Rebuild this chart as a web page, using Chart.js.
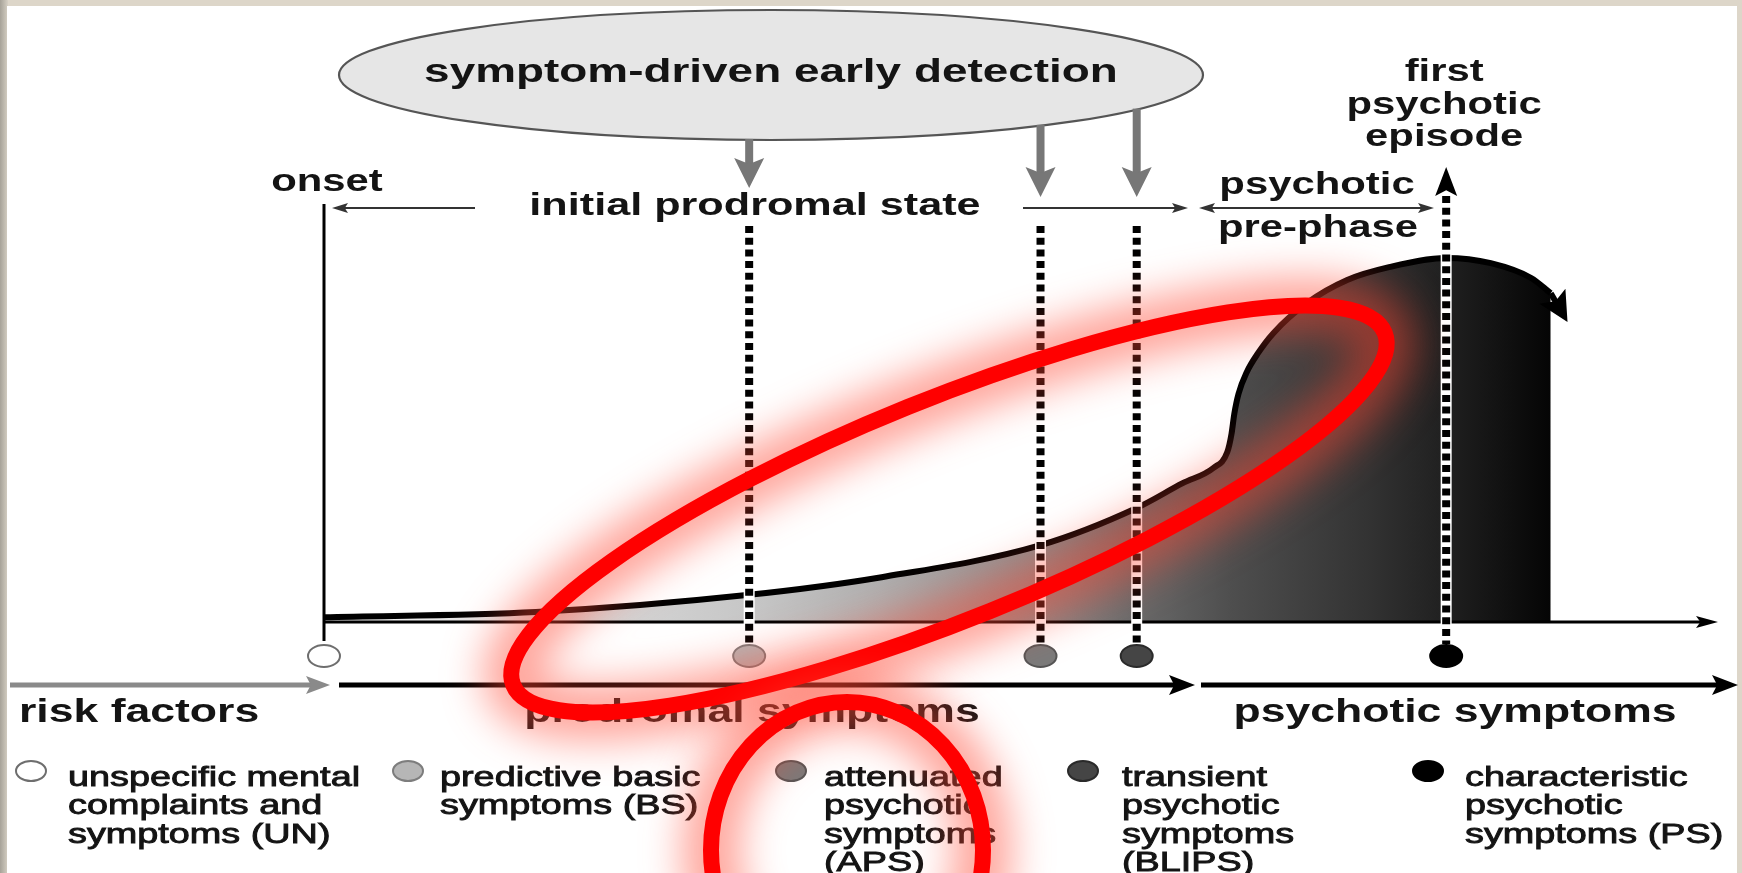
<!DOCTYPE html>
<html>
<head>
<meta charset="utf-8">
<title>Symptom-driven early detection of psychosis</title>
<script src="https://cdn.jsdelivr.net/npm/chart.js@4.4.1/dist/chart.umd.min.js"></script>
<style>
  html, body { margin: 0; padding: 0; background: #ddd6c9; }
  canvas { display: block; }
</style>
</head>
<body>
<canvas id="stageChart" width="1742" height="873"></canvas>
<script>
// time: 0 = onset, 100 = end of the time axis; level: 0 = axis
const stageCodes = ['UN', 'BS', 'APS', 'BLIPS', 'PS'];
const stageTimes = [0, 30.5, 51.4, 58.3, 80.5];
const stageLegend = [
  ['unspecific mental', 'complaints and', 'symptoms (UN)'],
  ['predictive basic', 'symptoms (BS)'],
  ['attenuated', 'psychotic', 'symptoms', '(APS)'],
  ['transient', 'psychotic', 'symptoms', '(BLIPS)'],
  ['characteristic', 'psychotic', 'symptoms (PS)']
];
const detectedStages = ['BS', 'APS', 'BLIPS'];

const curveTimes  = [0, 15.2, 30.5, 40.0, 51.4, 58.3, 61.6, 63.8, 64.8, 65.1, 65.3, 65.6, 66.2, 67.0, 68.1, 70.5, 73.4, 76.4, 80.5, 83.7, 86.6, 88.0];
const curveLevels = [1.2, 2.5, 6.8, 11.2, 19.2, 28.5, 34.7, 38.5, 42.5, 47.0, 52.0, 57.0, 62.5, 67.2, 72.2, 79.7, 85.5, 88.7, 91.0, 89.7, 86.0, 82.2];
const tailTimes  = [88.0, 88.7];
const tailLevels = [82.2, 78.0];

const phaseLabels = ['risk factors', 'prodromal symptoms', 'psychotic symptoms'];

// marker look, same order as stageCodes
const markerFill = ['#ffffff', '#b6b6b6', '#7a7a7a', '#454545', '#000000'];
const markerEdge = ['#6e6e6e', '#7d7d7d', '#555555', '#2a2a2a', '#000000'];

const SX = 1.35; // the original figure is stretched sideways
const FONT = '"Liberation Sans", Arial, Helvetica, sans-serif';

function toPoints(xs, ys) {
  return xs.map((x, i) => ({ x: x, y: ys[i] }));
}

function txt(ctx, s, x, y, size, bold, align, heavy) {
  ctx.save();
  ctx.font = (bold ? 'bold ' : '') + size + 'px ' + FONT;
  ctx.textBaseline = 'middle';
  ctx.textAlign = align || 'center';
  ctx.fillStyle = '#141414';
  ctx.translate(x, y);
  ctx.scale(SX, 1);
  ctx.fillText(s, 0, 0);
  if (heavy) {
    ctx.strokeStyle = '#141414';
    ctx.lineWidth = heavy;
    ctx.strokeText(s, 0, 0);
  }
  ctx.restore();
}

function head(ctx, x, y, ang, len, half, color) {
  ctx.save();
  ctx.translate(x, y);
  ctx.rotate(ang);
  ctx.fillStyle = color;
  ctx.beginPath();
  ctx.moveTo(0, 0);
  ctx.lineTo(-len, -half);
  ctx.lineTo(-len * 0.8, 0);
  ctx.lineTo(-len, half);
  ctx.closePath();
  ctx.fill();
  ctx.restore();
}

function arrow(ctx, x1, y1, x2, y2, color, width, len, half, both) {
  const ang = Math.atan2(y2 - y1, x2 - x1);
  const c = Math.cos(ang), s = Math.sin(ang);
  ctx.save();
  ctx.strokeStyle = color;
  ctx.lineWidth = width;
  ctx.beginPath();
  ctx.moveTo(both ? x1 + c * len * 0.7 : x1, both ? y1 + s * len * 0.7 : y1);
  ctx.lineTo(x2 - c * len * 0.7, y2 - s * len * 0.7);
  ctx.stroke();
  ctx.restore();
  head(ctx, x2, y2, ang, len, half, color);
  if (both) head(ctx, x1, y1, ang + Math.PI, len, half, color);
}

function redMark(ctx, cx, cy, rx, ry, rot) {
  ctx.save();
  ctx.beginPath();
  ctx.ellipse(cx, cy, rx, ry, rot, 0, Math.PI * 2);
  ctx.filter = 'blur(20px)';
  ctx.strokeStyle = 'rgba(255, 70, 50, 0.5)';
  ctx.lineWidth = 56;
  ctx.stroke();
  ctx.filter = 'none';
  ctx.strokeStyle = '#ff0000';
  ctx.lineWidth = 16;
  ctx.stroke();
  ctx.restore();
}

const diagram = {
  id: 'diagram',
  beforeDraw(chart) {
    const ctx = chart.ctx;
    const W = chart.width, H = chart.height;
    ctx.save();
    ctx.fillStyle = '#ddd6c9';
    ctx.fillRect(0, 0, W, H);
    const g = ctx.createLinearGradient(0, 0, 8, 0);
    g.addColorStop(0, '#a6a298');
    g.addColorStop(1, '#d6d0c4');
    ctx.fillStyle = g;
    ctx.fillRect(0, 0, 8, H);
    ctx.fillStyle = '#ffffff';
    ctx.fillRect(7, 6, 1730, H - 6);
    ctx.restore();
  },
  afterDatasetsDraw(chart) {
    const ctx = chart.ctx;
    const xs = chart.scales.x, ys = chart.scales.y;
    const X = v => xs.getPixelForValue(v);
    const y0 = ys.getPixelForValue(0);
    const x0 = X(0);
    const markY = 656;

    // time axis and onset line
    ctx.save();
    ctx.strokeStyle = '#000';
    ctx.lineWidth = 3;
    ctx.beginPath();
    ctx.moveTo(x0, 204);
    ctx.lineTo(x0, 641);
    ctx.stroke();
    ctx.restore();
    arrow(ctx, x0, y0, X(100), y0, '#000', 3, 22, 6);

    // tail arrow of the curve
    const tail = chart.getDatasetMeta(1).data;
    if (tail.length > 1) {
      const a = tail[tail.length - 2], b = tail[tail.length - 1];
      const ang = Math.atan2(b.y - a.y, b.x - a.x);
      head(ctx, b.x + Math.cos(ang) * 14, b.y + Math.sin(ang) * 14, ang, 30, 15, '#000');
    }

    // dotted stage lines
    stageCodes.forEach((code, i) => {
      if (i === 0) return;
      const x = X(stageTimes[i]);
      const top = code === 'PS' ? 196 : 226;
      ctx.save();
      ctx.lineCap = 'butt';
      ctx.strokeStyle = '#ffffff';
      ctx.lineWidth = 11;
      ctx.beginPath();
      ctx.moveTo(x, top);
      ctx.lineTo(x, markY - 12);
      ctx.stroke();
      ctx.strokeStyle = '#000';
      ctx.lineWidth = 8;
      ctx.setLineDash([7, 4.7]);
      ctx.stroke();
      ctx.restore();
      if (code === 'PS') head(ctx, x, 167, -Math.PI / 2, 29, 11, '#000');
    });

    // stage markers
    stageCodes.forEach((code, i) => {
      ctx.save();
      ctx.beginPath();
      ctx.ellipse(X(stageTimes[i]), markY, 16, 11, 0, 0, Math.PI * 2);
      ctx.fillStyle = markerFill[i];
      ctx.fill();
      ctx.strokeStyle = markerEdge[i];
      ctx.lineWidth = 2;
      ctx.stroke();
      ctx.restore();
    });

    // detection ellipse and its arrows
    const ex = 771, ey = 75, erx = 432, ery = 65;
    ctx.save();
    ctx.beginPath();
    ctx.ellipse(ex, ey, erx, ery, 0, 0, Math.PI * 2);
    ctx.fillStyle = '#e6e6e6';
    ctx.fill();
    ctx.strokeStyle = '#555';
    ctx.lineWidth = 2.2;
    ctx.stroke();
    ctx.restore();
    txt(ctx, 'symptom-driven early detection', ex, 73, 34, true);

    detectedStages.forEach(code => {
      const x = X(stageTimes[stageCodes.indexOf(code)]);
      const k = (x - ex) / erx;
      const yStart = ey + ery * Math.sqrt(Math.max(0, 1 - k * k)) - 1;
      const tip = code === 'BS' ? 188 : 197;
      arrow(ctx, x, yStart, x, tip, '#777777', 8, 30, 15);
    });

    // phase brackets along the top
    txt(ctx, 'onset', x0 + 3, 182, 31, true);
    arrow(ctx, 475, 208, x0 + 8, 208, '#333', 2, 16, 5);
    txt(ctx, 'initial prodromal state', 755, 206, 32, true);
    arrow(ctx, 1023, 208, 1188, 208, '#333', 2, 16, 5);
    arrow(ctx, 1199, 208, 1434, 208, '#333', 2, 16, 5, true);
    txt(ctx, 'psychotic', 1317, 185, 31, true);
    txt(ctx, 'pre-phase', 1318, 228, 31, true);
    const psX = X(stageTimes[4]);
    txt(ctx, 'first', psX - 2, 72, 31, true);
    txt(ctx, 'psychotic', psX - 2, 105, 31, true);
    txt(ctx, 'episode', psX - 2, 137, 31, true);

    // phase arrows under the markers
    const rowY = 685;
    arrow(ctx, 10, rowY, x0 + 6, rowY, '#8a8a8a', 5, 24, 9);
    arrow(ctx, x0 + 15, rowY, 1195, rowY, '#000', 5, 26, 10);
    arrow(ctx, 1201, rowY, 1738, rowY, '#000', 5, 26, 10);
    txt(ctx, phaseLabels[0], 19, 713, 33, true, 'left');
    txt(ctx, phaseLabels[1], 752, 713, 33, true);
    txt(ctx, phaseLabels[2], 1455, 713, 33, true);

    // legend
    const legendX = [31, 408, 791, 1083, 1428];
    const legendTextX = [68, 440, 824, 1122, 1465];
    stageCodes.forEach((code, i) => {
      ctx.save();
      ctx.beginPath();
      ctx.ellipse(legendX[i], 771, 15, 10, 0, 0, Math.PI * 2);
      ctx.fillStyle = markerFill[i];
      ctx.fill();
      ctx.strokeStyle = markerEdge[i];
      ctx.lineWidth = 2;
      ctx.stroke();
      ctx.restore();
      stageLegend[i].forEach((line, j) => {
        txt(ctx, line, legendTextX[i], 778 + j * 28.5, 28, false, 'left', 0.9);
      });
    });
  },
  afterDraw(chart) {
    const ctx = chart.ctx;
    redMark(ctx, 949, 509, 470, 110, -22 * Math.PI / 180);
    redMark(ctx, 847, 850, 136, 148, 0);
  }
};

const canvas = document.getElementById('stageChart');
const chart = new Chart(canvas.getContext('2d'), {
  type: 'line',
  data: {
    datasets: [
      {
        label: 'symptom load',
        data: toPoints(curveTimes, curveLevels),
        borderColor: '#000',
        borderWidth: 6,
        pointRadius: 0,
        cubicInterpolationMode: 'monotone',
        fill: 'origin',
        clip: false,
        backgroundColor: function (c) {
          const ch = c.chart;
          if (!ch.chartArea) return '#bbbbbb';
          const xs = ch.scales.x;
          const g = ch.ctx.createLinearGradient(xs.getPixelForValue(0), 0, xs.getPixelForValue(curveTimes[curveTimes.length - 1]), 0);
          g.addColorStop(0.00, '#f4f4f4');
          g.addColorStop(0.17, '#dedede');
          g.addColorStop(0.35, '#c6c6c6');
          g.addColorStop(0.45, '#b0b0b0');
          g.addColorStop(0.58, '#8c8c8c');
          g.addColorStop(0.66, '#6a6a6a');
          g.addColorStop(0.74, '#4e4e4e');
          g.addColorStop(0.85, '#333333');
          g.addColorStop(0.93, '#1b1b1b');
          g.addColorStop(1.00, '#050505');
          return g;
        }
      },
      {
        label: 'tail',
        data: toPoints(tailTimes, tailLevels),
        borderColor: '#000',
        borderWidth: 6,
        pointRadius: 0,
        fill: false,
        clip: false
      }
    ]
  },
  options: {
    responsive: false,
    animation: false,
    events: [],
    layout: { padding: { left: 324, right: 24, top: 222, bottom: 251 } },
    scales: {
      x: { type: 'linear', min: 0, max: 100, display: false },
      y: { type: 'linear', min: 0, max: 100, display: false }
    },
    plugins: {
      legend: { display: false },
      tooltip: { enabled: false }
    }
  },
  plugins: [diagram]
});
</script>
</body>
</html>
